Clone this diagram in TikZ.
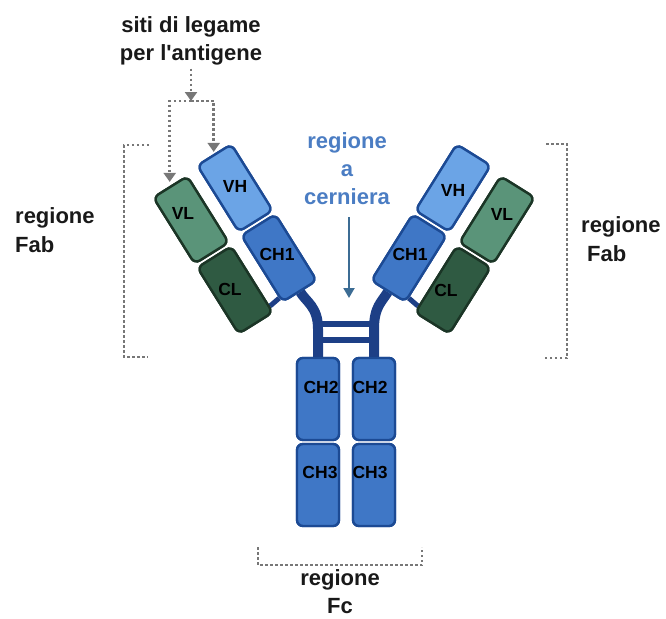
\documentclass[tikz,border=0pt]{standalone}
\usepackage{fontspec}
\setmainfont{Liberation Sans}
\usetikzlibrary{arrows.meta,calc}

\definecolor{vhFill}{HTML}{6BA4E6}
\definecolor{chFill}{HTML}{3F77C6}
\definecolor{chDraw}{HTML}{1C4A94}
\definecolor{vlFill}{HTML}{5A9479}
\definecolor{clFill}{HTML}{2F5A42}
\definecolor{lDraw}{HTML}{1B3526}
\definecolor{hingeCol}{HTML}{1D3F86}
\definecolor{capBlue}{HTML}{4B7DC3}
\definecolor{arrowBlue}{HTML}{3C6C94}
\definecolor{guide}{HTML}{777777}

\begin{document}
\begin{tikzpicture}[x=1pt,y=-1pt,
  abbox/.style={draw, rounded corners=6pt, line width=2.4pt, inner sep=0pt,
    minimum width=78pt, minimum height=40pt},
  fcbox/.style={abbox, fill=chFill, draw=chDraw,
    minimum width=42pt, minimum height=82pt},
  heavyV/.style={abbox, fill=vhFill, draw=chDraw},
  heavyC/.style={abbox, fill=chFill, draw=chDraw},
  lightV/.style={abbox, fill=vlFill, draw=lDraw},
  lightC/.style={abbox, fill=clFill, draw=lDraw},
  dlabel/.style={font=\fontsize{17.5}{17.5}\selectfont\bfseries, text=black, inner sep=0pt},
  caption/.style={font=\fontsize{22}{28}\selectfont\bfseries, text=black!90, inner sep=0pt},
  hinge/.style={draw=hingeCol, line width=10pt},
  hingebar/.style={draw=hingeCol, line width=6pt},
  sbond/.style={draw=hingeCol, line width=5pt},
  guideline/.style={draw=guide, line width=2.5pt, dash pattern=on 2.5pt off 2.5pt},
  guidearrow/.style={guideline, -{Triangle[width=12pt,length=9pt]}},
]
\useasboundingbox (0,0) rectangle (666,618);

% ---------- Fc domains ----------
\node[fcbox] (ch2L) at (318,399) {};
\node[fcbox] (ch3L) at (318,485) {};
\node[fcbox] (ch2R) at (374,399) {};
\node[fcbox] (ch3R) at (374,485) {};

% ---------- Fab arms (positions; boxes are drawn again above the bonds) ----------
\path
  node[heavyV, rotate=-58] (vhL) at (235,188) {}
  node[heavyC, rotate=-58] (ch1L) at (279,258) {}
  node[lightV, rotate=-58] (vlL) at (191,220) {}
  node[lightC, rotate=-58] (clL) at (235,290) {}
  node[heavyV, rotate=-122] (vhR) at (453,188) {}
  node[heavyC, rotate=-122] (ch1R) at (409,258) {}
  node[lightV, rotate=-122] (vlR) at (497,220) {}
  node[lightC, rotate=-122] (clR) at (453,290) {};

% ---------- hinge and disulfide bonds ----------
\draw[hinge] (ch2L.north) -- ++(0,-28)
  .. controls +(0,-22) and ($(ch1L.east)+(6,10)$) .. (ch1L.east);
\draw[hinge] (ch2R.north) -- ++(0,-28)
  .. controls +(0,-22) and ($(ch1R.east)+(-6,10)$) .. (ch1R.east);
\draw[hingebar] ($(ch2L.north)+(0,-33)$) -- ($(ch2R.north)+(0,-33)$);
\draw[hingebar] ($(ch2L.north)+(0,-17)$) -- ($(ch2R.north)+(0,-17)$);
\draw[sbond] ($(clL.north)!0.8!(clL.north east)$) -- ($(ch1L.south)!0.85!(ch1L.south east)$);
\draw[sbond] ($(clR.south)!0.8!(clR.south east)$) -- ($(ch1R.north)!0.85!(ch1R.north east)$);

% redraw the domains above the bonds
\node[fcbox] at (ch2L) {};
\node[fcbox] at (ch3L) {};
\node[fcbox] at (ch2R) {};
\node[fcbox] at (ch3R) {};
\node[heavyV, rotate=-58] at (vhL) {};
\node[heavyC, rotate=-58] at (ch1L) {};
\node[lightV, rotate=-58] at (vlL) {};
\node[lightC, rotate=-58] at (clL) {};
\node[heavyV, rotate=-122] at (vhR) {};
\node[heavyC, rotate=-122] at (ch1R) {};
\node[lightV, rotate=-122] at (vlR) {};
\node[lightC, rotate=-122] at (clR) {};

% ---------- domain labels ----------
\node[dlabel] (tvhL) at (235,186) {VH};
\node[dlabel] (tch1L) at (277,254) {CH1};
\node[dlabel] (tvlL) at (183,213) {VL};
\node[dlabel] (tclL) at (230,289) {CL};
\node[dlabel] (tvhR) at (453,190) {VH};
\node[dlabel] (tch1R) at (410,254) {CH1};
\node[dlabel] (tvlR) at (502,214) {VL};
\node[dlabel] (tclR) at (446,290) {CL};
\node[dlabel] (tch2L) at (321,387) {CH2};
\node[dlabel] (tch3L) at (320,472) {CH3};
\node[dlabel] (tch2R) at (370,387) {CH2};
\node[dlabel] (tch3R) at (370,472) {CH3};

% ---------- antigen binding sites ----------
\node[caption, align=center] (siti) at (191,41) {siti di legame\\per l\textquotesingle antigene};
\coordinate (fork) at (191,101);
\draw[guidearrow, shorten <=3pt] (siti.south) -- (fork);
\draw[guidearrow, shorten >=2pt] (fork) -| (vhL.west);
\draw[guidearrow, shorten >=4pt] (fork) -| (vlL.west);

% ---------- hinge caption ----------
\node[caption, align=center, text=capBlue] (cerniera) at (347,169) {regione\\a\\cerniera};
\coordinate (hingeTip) at (349,298);
\draw[draw=arrowBlue, line width=2pt, shorten <=12pt,
  -{Triangle[width=11pt,length=10pt]}] (cerniera.south -| hingeTip) -- (hingeTip);

% ---------- Fab regions ----------
\draw[guideline] (149,145) -- (124,145) -- (124,357) -- (148,357);
\node[caption, anchor=base west] (fabL) at (15,223) {regione};
\node[caption, anchor=base west] (fabL2) at (15,252) {Fab};
\draw[guideline] (546,144) -- (567,144) -- (567,358) -- (543,358);
\node[caption, anchor=base west] (fabR) at (581,232) {regione};
\node[caption, anchor=base west] (fabR2) at (587,261) {Fab};

% ---------- Fc region ----------
\draw[guideline] (258,547) -- (258,565) -- (422,565) -- (422,547);
\node[caption, align=center] (fc) at (340,592) {regione\\Fc};
\end{tikzpicture}
\end{document}
